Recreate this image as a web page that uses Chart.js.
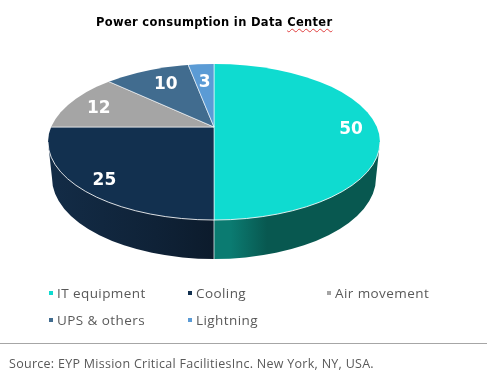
<!DOCTYPE html>
<html lang="en">
<head>
  <meta charset="UTF-8" />
  <title>Power consumption in Data Center</title>
  <script src="https://cdn.jsdelivr.net/npm/chart.js"></script>
  <style>
    body {
      margin: 0;
      background: #fff;
      font-family: 'DejaVu Sans', sans-serif;
      color: #595959;
    }
    .page {
      position: relative;
      width: 487px;
      height: 378px;
      overflow: hidden;
    }
    canvas { position: absolute; left: 0; top: 0; }
    .title {
      position: absolute;
      left: 96px;
      top: 14px;
      font-size: 11.5px;
      line-height: 16px;
      letter-spacing: 0.32px;
      font-weight: bold;
      color: #000;
      white-space: nowrap;
    }
    .title span {
      text-decoration: underline wavy #e04040 1px;
      text-underline-offset: 2px;
    }
    .legend-item {
      position: absolute;
      font-family: 'Open Sans', sans-serif;
      font-size: 13.5px;
      line-height: 18px;
      letter-spacing: 0.42px;
      padding-left: 8px;
      white-space: nowrap;
    }
    .legend-item i {
      position: absolute;
      left: 0;
      top: 7px;
      width: 4px;
      height: 4px;
    }
    .rule {
      position: absolute;
      left: 0;
      top: 343px;
      width: 487px;
      height: 1px;
      background: #a6a6a6;
    }
    .source {
      position: absolute;
      left: 9px;
      top: 355px;
      font-family: 'Open Sans', sans-serif;
      font-size: 12.5px;
      line-height: 18px;
      letter-spacing: 0.28px;
      white-space: nowrap;
    }
  </style>
</head>
<body>
  <div class="page">
    <canvas id="pie" width="487" height="378"></canvas>
    <div class="title">Power consumption in Data <span>Center</span></div>
    <div id="legend"></div>
    <div class="rule"></div>
    <div class="source">Source: EYP Mission Critical FacilitiesInc. New York, NY, USA.</div>
  </div>

  <script>
    const categories = ['IT equipment', 'Cooling', 'Air movement', 'UPS & others', 'Lightning'];
    const values = [50, 25, 12, 10, 3];
    const colors = ['#0fdbd0', '#12304f', '#a5a5a5', '#416c8f', '#5b9bd5'];

    // fake 3d look: flattened wedges cut by the top ellipse, wall underneath
    const tilt = 0.46;
    const topFace = { x: 214, y: 142, rx: 166, ry: 78 };
    const bottomFace = { x: 214, y: 178, rx: 162, ry: 81 };
    const labelRadius = [137, 155, 124, 100, 100];
    const labelShiftY = [3, 3, 3, -2, 1];
    const legendSpots = [[49, 284], [188, 284], [327, 284], [49, 311], [188, 311]];

    function drawWall(ctx, fromX, toX, gradientStops) {
      const grad = ctx.createLinearGradient(fromX, 0, toX, 0);
      gradientStops.forEach(s => grad.addColorStop(s[0], s[1]));
      ctx.save();
      ctx.beginPath();
      ctx.rect(Math.min(fromX, toX), 0, Math.abs(toX - fromX), 378);
      ctx.clip();
      ctx.beginPath();
      ctx.ellipse(bottomFace.x, bottomFace.y, bottomFace.rx, bottomFace.ry, 0, 0, Math.PI);
      ctx.lineTo(topFace.x - topFace.rx, topFace.y);
      ctx.lineTo(topFace.x + topFace.rx, topFace.y);
      ctx.closePath();
      ctx.fillStyle = grad;
      ctx.fill();
      ctx.restore();
    }

    const tiltPlugin = {
      id: 'tilt',
      beforeDatasetsDraw(chart) {
        const ctx = chart.ctx;
        const arc = chart.getDatasetMeta(0).data[0];
        drawWall(ctx, 214, 380, [[0, '#0b7b71'], [0.1, '#0b7b71'], [0.32, '#085850'], [1, '#085850']]);
        drawWall(ctx, 214, 48, [[0, '#0c1b2c'], [0.35, '#0f2237'], [1, '#132c47']]);
        ctx.save();
        ctx.beginPath();
        ctx.ellipse(topFace.x, topFace.y, topFace.rx, topFace.ry, 0, 0, Math.PI * 2);
        ctx.clip();
        ctx.translate(arc.x, arc.y);
        ctx.scale(1, tilt);
        ctx.translate(-arc.x, -arc.y);
      },
      afterDatasetsDraw(chart) {
        const ctx = chart.ctx;
        ctx.restore();

        // front edge and seam on the wall
        ctx.save();
        ctx.strokeStyle = 'rgba(255,255,255,0.85)';
        ctx.lineWidth = 1;
        ctx.beginPath();
        ctx.ellipse(topFace.x, topFace.y, topFace.rx, topFace.ry, 0, 0, Math.PI);
        ctx.stroke();
        ctx.strokeStyle = 'rgba(255,255,255,0.7)';
        ctx.beginPath();
        ctx.moveTo(topFace.x, topFace.y + topFace.ry);
        ctx.lineTo(bottomFace.x, bottomFace.y + bottomFace.ry);
        ctx.stroke();
        ctx.restore();

        // value labels
        const meta = chart.getDatasetMeta(0);
        ctx.save();
        ctx.fillStyle = '#fff';
        ctx.font = "bold 17px 'DejaVu Sans', sans-serif";
        ctx.textAlign = 'center';
        ctx.textBaseline = 'middle';
        meta.data.forEach((arc, i) => {
          const mid = (arc.startAngle + arc.endAngle) / 2;
          const x = arc.x + Math.cos(mid) * labelRadius[i];
          const y = arc.y + Math.sin(mid) * labelRadius[i] * tilt + labelShiftY[i];
          ctx.fillText(String(values[i]), x, y);
        });
        ctx.restore();
      }
    };

    new Chart(document.getElementById('pie'), {
      type: 'pie',
      data: {
        labels: categories,
        datasets: [{
          data: values,
          backgroundColor: colors,
          borderColor: 'rgba(255,255,255,0.8)',
          borderWidth: 1,
          radius: 300,
          clip: false
        }]
      },
      options: {
        responsive: false,
        animation: false,
        layout: { padding: { left: 0, top: 0, right: 59, bottom: 124 } },
        plugins: {
          legend: { display: false },
          tooltip: { enabled: false }
        }
      },
      plugins: [tiltPlugin]
    });

    const legendBox = document.getElementById('legend');
    categories.forEach((name, i) => {
      const item = document.createElement('div');
      item.className = 'legend-item';
      item.style.left = legendSpots[i][0] + 'px';
      item.style.top = legendSpots[i][1] + 'px';
      const mark = document.createElement('i');
      mark.style.background = colors[i];
      item.appendChild(mark);
      item.appendChild(document.createTextNode(name));
      legendBox.appendChild(item);
    });
  </script>
</body>
</html>
